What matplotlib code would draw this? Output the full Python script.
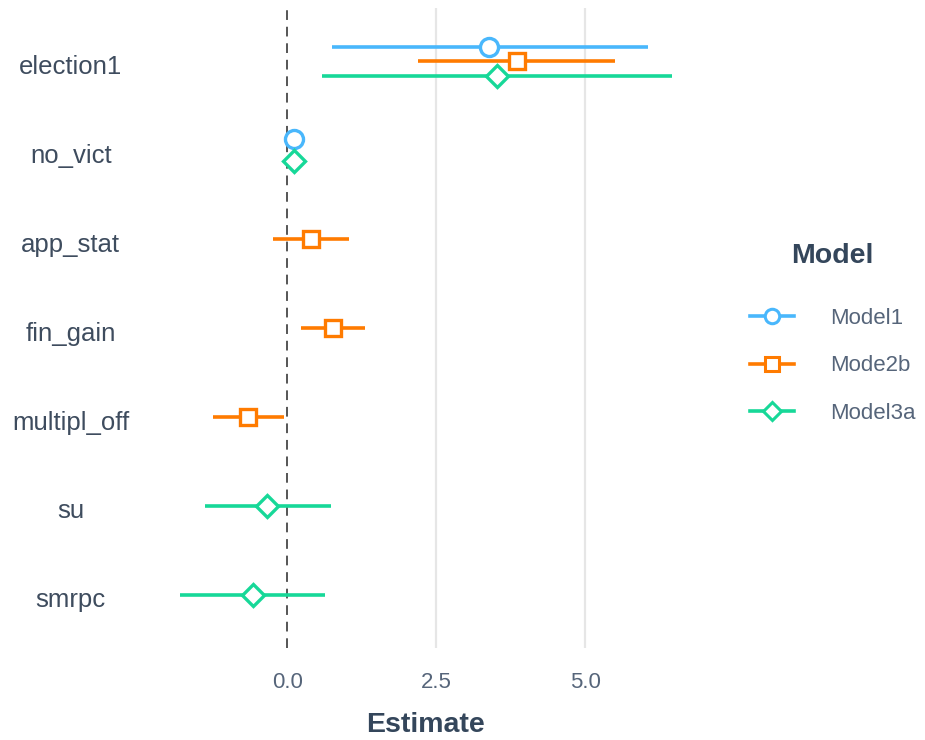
import numpy as np
import matplotlib.pyplot as plt
import matplotlib.transforms as mtransforms
from matplotlib.lines import Line2D

plt.rcParams['font.family'] = ['Liberation Sans', 'DejaVu Sans']

# coefficient table (NaN = term not in that model)
terms = ['election1', 'no_vict', 'app_stat', 'fin_gain', 'multipl_off', 'su', 'smrpc']
models = ['Model1', 'Mode2b', 'Model3a']

m1_est = [3.39, 0.12, np.nan, np.nan, np.nan, np.nan, np.nan]
m1_lo = [0.75, 0.06, np.nan, np.nan, np.nan, np.nan, np.nan]
m1_hi = [6.05, 0.18, np.nan, np.nan, np.nan, np.nan, np.nan]

m2_est = [3.85, np.nan, 0.40, 0.77, -0.66, np.nan, np.nan]
m2_lo = [2.19, np.nan, -0.23, 0.23, -1.25, np.nan, np.nan]
m2_hi = [5.51, np.nan, 1.04, 1.31, -0.05, np.nan, np.nan]

m3_est = [3.52, 0.11, np.nan, np.nan, np.nan, -0.33, -0.58]
m3_lo = [0.58, 0.08, np.nan, np.nan, np.nan, -1.38, -1.80]
m3_hi = [6.46, 0.14, np.nan, np.nan, np.nan, 0.73, 0.64]

colors = ['#49B7FC', '#FF7B00', '#17D898']
markers = ['o', 's', 'D']
msizes = [13, 12, 11]

est = np.array([m1_est, m2_est, m3_est])
lo = np.array([m1_lo, m2_lo, m3_lo])
hi = np.array([m1_hi, m2_hi, m3_hi])

txt = '#3E4C5E'

fig = plt.figure(figsize=(9.25, 7.4), dpi=100)
ax = fig.add_axes([0.168, 0.124, 0.585, 0.865])

# dodge models within each term, like position_dodge(width = 0.5)
dodge = 0.5
ypos = np.arange(1, len(terms) + 1)
offsets = np.zeros_like(est)
for j in range(len(terms)):
    present = [i for i in range(len(models)) if not np.isnan(est[i, j])]
    n = len(present)
    for k, i in enumerate(present):
        offsets[i, j] = (k - (n - 1) / 2) * dodge / n

ax.axvline(0, color='#555555', lw=1.4, ls=(0, (5, 3.5)), zorder=1)
for g in [2.5, 5.0]:
    ax.axvline(g, color='#E6E6E6', lw=1.6, zorder=0)

for i, m in enumerate(models):
    y = ypos + offsets[i]
    ok = ~np.isnan(est[i])
    ax.hlines(y[ok], lo[i][ok], hi[i][ok], color=colors[i], lw=2.6, zorder=2)
    ax.plot(est[i][ok], y[ok], ls='none', marker=markers[i], ms=msizes[i],
            mfc='white', mec=colors[i], mew=2.4, zorder=3)

ax.set_ylim(len(terms) + 0.6, 0.4)
ax.set_xlim(-2.21, 6.87)
ax.set_yticks(ypos)
ax.set_yticklabels(terms, ha='center', fontsize=18.5, color=txt)
ax.tick_params(axis='y', length=0, pad=61)
# term labels sit a touch below the row centre
shift = mtransforms.ScaledTranslation(0, -3 / 100, fig.dpi_scale_trans)
for lab in ax.get_yticklabels():
    lab.set_transform(lab.get_transform() + shift)
ax.set_xticks([0, 2.5, 5.0])
ax.set_xticklabels(['0.0', '2.5', '5.0'], fontsize=16, color='#56657A')
ax.tick_params(axis='x', length=0, pad=17)
ax.set_xlabel('Estimate', fontsize=20.5, fontweight='bold', color='#34465B', labelpad=14)
for s in ax.spines.values():
    s.set_visible(False)

handles = [Line2D([0], [0], color=colors[i], lw=2.6, marker=markers[i], ms=msizes[i] * 0.8,
                  mfc='white', mec=colors[i], mew=2.2) for i in range(len(models))]
leg = fig.legend(handles, models, loc='upper left', bbox_to_anchor=(0.789, 0.699),
                 frameon=False, fontsize=16, title='Model', handlelength=2.0,
                 handletextpad=1.6, labelspacing=1.2)
leg.get_title().set_fontsize(20.5)
leg.get_title().set_fontweight('bold')
leg.get_title().set_color('#34465B')
leg._legend_box.sep = 28
for t in leg.get_texts():
    t.set_color('#56657A')

fig.savefig('out.png', dpi=100, facecolor='white')
